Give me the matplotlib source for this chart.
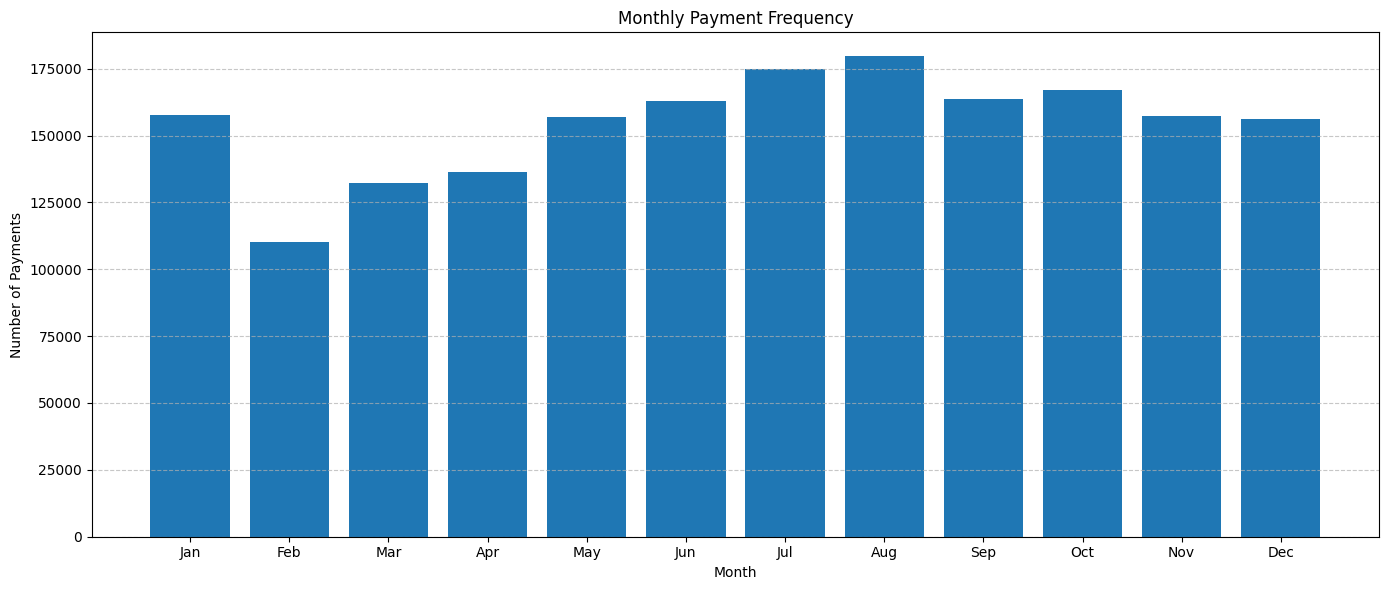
import matplotlib
matplotlib.use('Agg')
import matplotlib.pyplot as plt

months = ['Jan', 'Feb', 'Mar', 'Apr', 'May', 'Jun',
          'Jul', 'Aug', 'Sep', 'Oct', 'Nov', 'Dec']
payments = [157600, 110200, 132200, 136300, 156800, 162800,
            174950, 179600, 163550, 166900, 157200, 156100]

plt.figure(figsize=(13.89, 5.9))
plt.bar(months, payments, color='#1f77b4')
plt.title('Monthly Payment Frequency')
plt.xlabel('Month')
plt.ylabel('Number of Payments')
plt.grid(axis='y', linestyle='--', alpha=0.7)
plt.tight_layout(pad=0.72)
plt.savefig('out.png', dpi=100)
